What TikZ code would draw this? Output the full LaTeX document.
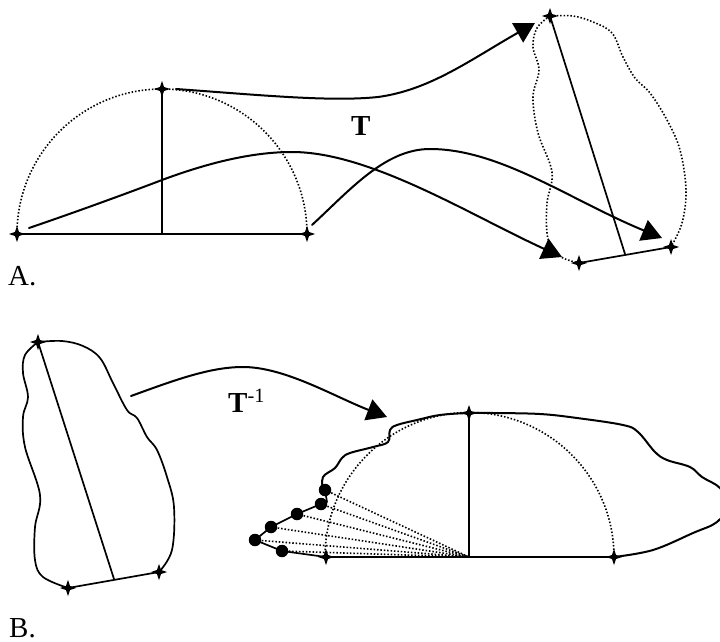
\documentclass[tikz,border=0pt]{standalone}
\usepackage{fontspec}
\setmainfont{Liberation Serif}
\usetikzlibrary{arrows.meta,shapes.geometric}
\tikzset{
  x=1pt,y=-1pt,
  solidline/.style={line width=2pt,line cap=round,line join=round,black},
  thinline/.style={line width=1.7pt,line cap=round,line join=round,black},
  dotline/.style={line width=1.6pt,dash pattern=on 1.5pt off 1.9pt,black},
  mark4/.style={star,star points=4,star point ratio=2.8,inner sep=0pt,minimum size=16pt,fill=black,draw=none},
  dotmark/.style={circle,inner sep=0pt,minimum size=12.5pt,fill=black,draw=none},
  bigarrow/.style={solidline,-{Triangle[length=20pt,width=22pt]}},
  lab/.style={inner sep=0pt,anchor=base west,font=\fontsize{29}{31}\selectfont},
  blab/.style={lab,font=\fontsize{29}{31}\selectfont\bfseries}
}
\begin{document}
\begin{tikzpicture}
\useasboundingbox (0,0) rectangle (720,642);
\clip (0,0) rectangle (720,642);
% Panel A semicircle
\node[mark4] (al) at (17,234) {};
\node[mark4] (at) at (162,89) {};
\node[mark4] (ar) at (307,234) {};
\coordinate (ac) at (162,234);
\draw[dotline] (17,234) arc[start angle=180,end angle=360,radius=145];
\draw[solidline] (al.center) -- (ar.center);
\draw[solidline] (at.center) -- (ac);
% Panel A blob
\draw[dotline] plot[smooth,tension=.6] coordinates {(550,16)(573,16)(593,22)(612,33)(623,57)(635,78)(650,93)(667,120)(680,150)(686,190)(682,223)(671,247)};
\draw[dotline] plot[smooth,tension=.6] coordinates {(550,16)(537,28)(533,47)(539,70)(533,97)(538,133)(552,172)(547,203)(547,233)(552,248)(563,258)(579,263)};
\node[mark4] (bt) at (550,16) {};
\node[mark4] (br) at (671,247) {};
\node[mark4] (bl) at (579,263) {};
\coordinate (bf) at (625,254);
\draw[thinline] (bl.center) -- (br.center);
\draw[thinline] (bt.center) -- (bf);
% Panel A arrows
\coordinate (s1) at (176,89);
\coordinate (m1) at (378,97);
\coordinate (e1) at (535,23);
\draw[bigarrow] (s1) .. controls (260,95) and (330,102) .. (m1) .. controls (430,90) and (470,60) .. (e1);
\coordinate (s2) at (29,228);
\coordinate (n2) at (162,180);
\coordinate (m2) at (292,152);
\coordinate (e2) at (562,257);
\draw[bigarrow] (s2) .. controls (70,214) and (120,196) .. (n2) .. controls (205,164) and (250,152) .. (m2) .. controls (370,152) and (470,215) .. (e2);
\coordinate (s3) at (312,225);
\coordinate (m3) at (430,149);
\coordinate (e3) at (662,238);
\draw[bigarrow] (s3) .. controls (350,190) and (385,149) .. (m3) .. controls (500,149) and (570,200) .. (e3);
\node[blab] (tlab) at (351,135) {T};
\node[lab] (alab) at (8,285) {A.};
% Panel B left blob
\draw[thinline] plot[smooth,tension=.6] coordinates {(38,342)(62,341)(83,346)(100,358)(113,383)(127,410)(137,418)(147,437)(157,450)(167,477)(174,507)(172,550)(159,572)};
\draw[thinline] plot[smooth,tension=.6] coordinates {(38,342)(25,355)(23,373)(28,397)(23,417)(25,447)(40,495)(35,527)(35,560)(43,577)(68,588)};
\node[mark4] (ct) at (38,342) {};
\node[mark4] (cr) at (159,572) {};
\node[mark4] (cl) at (68,588) {};
\coordinate (cf) at (114,579);
\draw[thinline] (cl.center) -- (cr.center);
\draw[thinline] (ct.center) -- (cf);
% Inverse arrow
\coordinate (s4) at (131,396);
\coordinate (m4) at (243,367);
\coordinate (e4) at (387,417);
\draw[bigarrow] (s4) .. controls (175,380) and (210,367) .. (m4) .. controls (285,367) and (335,397) .. (e4);
\node[blab] (ilab) at (228,412) {T\textsuperscript{\mdseries -1}};
% Panel B right
\coordinate (dc) at (469,557);
\draw[dotline] (325,557) arc[start angle=180,end angle=360,radius=144.5];
\draw[solidline] plot[smooth,tension=.6] coordinates {(614,557)(653,550)(693,533)(717,522)(728,505)(720,488)(702,477)(690,467)(667,460)(655,452)(638,432)(623,425)(577,418)(540,414)(493,413)(469,413)(440,415)(417,420)(397,425)(390,430)(388,442)(373,447)(350,453)(342,458)(335,468)(323,477)(323,490)};
\node[mark4] (dl) at (326,557) {};
\node[mark4] (dt) at (469,413) {};
\node[mark4] (dr) at (614,557) {};
\draw[solidline] (dl.center) -- (dr.center);
\draw[solidline] (dt.center) -- (dc);
\node[dotmark] (p1) at (325,490) {};
\node[dotmark] (p2) at (321,504) {};
\node[dotmark] (p3) at (297,514) {};
\node[dotmark] (p4) at (271,527) {};
\node[dotmark] (p5) at (255,540) {};
\node[dotmark] (p6) at (282,551) {};
\draw[thinline] (p1.center) -- (327,502) -- (p2.center) -- (p3.center) -- (p4.center) -- (p5.center) -- (p6.center) -- (dl.center);
\foreach \p in {p1,p2,p3,p4,p5,p6}{\draw[dotline] (\p.center) -- (dc);}
\draw[dotline] (dl.center) -- (dc);
\node[lab] (blab) at (9,637) {B.};
\end{tikzpicture}
\end{document}
